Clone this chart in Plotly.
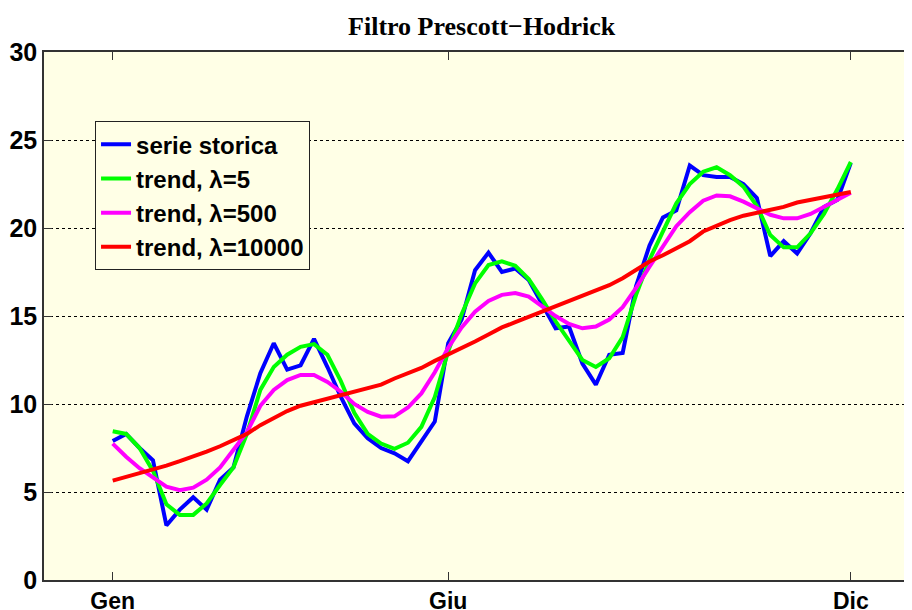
import plotly.graph_objects as go

# samples from Gen to Dic
idx = list(range(56))

serie = [7.9, 8.3, 7.5, 6.8, 3.1, 4.0, 4.7, 4.0, 5.7, 6.4,
         9.3, 11.75, 13.45, 11.95, 12.2, 13.7, 12.1, 10.4, 8.9, 8.05,
         7.5, 7.2, 6.75, 7.9, 9.0, 13.45, 14.8, 17.6, 18.6, 17.5,
         17.7, 17.05, 15.7, 14.3, 14.4, 12.3, 11.1, 12.8, 12.9, 16.7,
         19.0, 20.6, 21.0, 23.55, 23.0, 22.9, 22.9, 22.5, 21.7, 18.4,
         19.25, 18.55, 19.7, 21.2, 21.6, 23.7]

trend5 = [8.45, 8.3, 7.5, 6.2, 4.3, 3.7, 3.7, 4.35, 5.4, 6.4,
          8.3, 10.8, 12.1, 12.8, 13.25, 13.4, 12.8, 11.3, 9.5, 8.3,
          7.75, 7.45, 7.8, 8.7, 10.4, 13.0, 15.1, 16.85, 17.9, 18.1,
          17.85, 17.1, 15.95, 14.7, 13.6, 12.5, 12.1, 12.6, 13.8, 16.2,
          18.2, 19.8, 21.4, 22.5, 23.2, 23.45, 23.0, 22.35, 21.25, 19.6,
          18.9, 18.9, 19.7, 20.8, 22.2, 23.75]

trend500 = [7.75, 7.0, 6.35, 5.8, 5.3, 5.1, 5.25, 5.7, 6.4, 7.4,
            8.4, 9.9, 10.8, 11.36, 11.65, 11.65, 11.25, 10.7, 10.0, 9.55,
            9.28, 9.3, 9.8, 10.6, 11.8, 13.2, 14.35, 15.25, 15.85, 16.2,
            16.3, 16.1, 15.55, 15.0, 14.55, 14.3, 14.4, 14.8, 15.5, 16.6,
            17.8, 18.95, 20.1, 20.9, 21.55, 21.85, 21.8, 21.5, 21.1, 20.75,
            20.55, 20.55, 20.8, 21.2, 21.6, 22.0]

trend10000 = [5.65, 5.85, 6.05, 6.25, 6.5, 6.75, 7.0, 7.3, 7.6, 7.95,
              8.3, 8.8, 9.2, 9.6, 9.9, 10.1, 10.3, 10.45, 10.65, 10.85,
              11.1, 11.45, 11.75, 12.05, 12.45, 12.8, 13.15, 13.55, 13.95, 14.35,
              14.65, 14.95, 15.25, 15.5, 15.8, 16.1, 16.45, 16.75, 17.15, 17.65,
              18.1, 18.45, 18.85, 19.25, 19.8, 20.15, 20.45, 20.7, 20.85, 21.0,
              21.2, 21.45, 21.6, 21.75, 21.9, 22.05]

month_pos = [0, 25, 55]
month_labels = ["Gen", "Giu", "Dic"]

series = [
    ("serie storica", serie, "#0000FF"),
    ("trend, \u03bb=5", trend5, "#00FF00"),
    ("trend, \u03bb=500", trend500, "#FF00FF"),
    ("trend, \u03bb=10000", trend10000, "#FF0000"),
]

fig = go.Figure()
for name, vals, col in series:
    fig.add_trace(go.Scatter(x=idx, y=vals, mode="lines", name=name,
                             line=dict(color=col, width=4)))

sans = "Liberation Sans, Arial"

# page body has an 8px margin, so the figure is sized to 904x602
fig.update_layout(
    width=904, height=602,
    margin=dict(l=36, r=0, t=44, b=30),
    paper_bgcolor="white",
    plot_bgcolor="#FFFFE6",
    title=dict(text="<b>Filtro Prescott\u2212Hodrick</b>", x=0.524, xref="container",
               y=1 - 18 / 602, yref="container", xanchor="center", yanchor="middle",
               font=dict(family="Liberation Serif, Times New Roman", size=26, color="black")),
    legend=dict(x=0.0588, y=0.869, xanchor="left", yanchor="top",
                bgcolor="#FFFFE6", bordercolor="#222", borderwidth=1,
                font=dict(family=sans, size=24, color="black", weight="bold")),
    showlegend=True,
)

fig.update_xaxes(range=[-5.12, 59.56], tickvals=month_pos, ticktext=month_labels,
                 automargin=False,
                 showgrid=False, zeroline=False, showline=True, linecolor="#333", linewidth=1.5,
                 mirror="ticks", ticks="inside", ticklen=8, tickcolor="#333",
                 tickfont=dict(family=sans, size=23, color="black", weight="bold"))
fig.update_yaxes(range=[0, 30], tickvals=[0, 5, 10, 15, 20, 25, 30],
                 automargin=False,
                 showgrid=True, gridcolor="black", griddash="dot", gridwidth=1,
                 zeroline=False, showline=True, linecolor="#333", linewidth=1.5,
                 ticks="inside", ticklen=8, tickcolor="#333",
                 tickfont=dict(family=sans, size=25, color="black", weight="bold"))

fig.write_html("out.html")
